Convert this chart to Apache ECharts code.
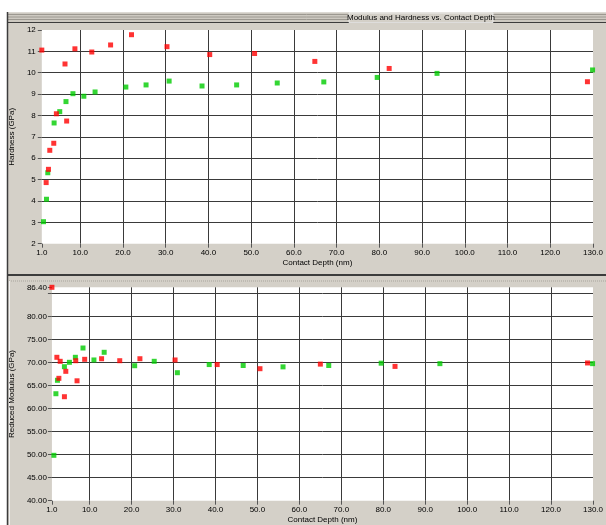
<!DOCTYPE html>
<html><head><meta charset="utf-8">
<script src="https://cdn.jsdelivr.net/npm/echarts@6/dist/echarts.min.js"></script>
<style>html,body{margin:0;padding:0;background:#d4d0c8;}#c{width:606px;height:525px;}</style>
</head><body><div id="c"></div>
<script>
const titleText = 'Modulus and Hardness vs. Contact Depth';
const xName = 'Contact Depth (nm)';
const hardnessName = 'Hardness (GPa)';
const modulusName = 'Reduced Modulus (GPa)';

const xTicks = [1, 10, 20, 30, 40, 50, 60, 70, 80, 90, 100, 110, 120, 130];
const modulusTickLabels = [40, 45, 50, 55, 60, 65, 70, 75, 80, 86.4];

// Hardness vs depth
const hardRedX = [1.0, 2.02, 2.56, 2.87, 3.8, 4.41, 6.43, 6.82, 8.75, 12.7, 17.1, 22.0, 30.3, 40.3, 50.8, 64.9, 82.3, 128.7];
const hardRedY = [11.06, 4.86, 5.48, 6.37, 6.70, 8.08, 10.41, 7.74, 11.12, 10.97, 11.30, 11.78, 11.22, 10.85, 10.90, 10.53, 10.20, 9.58];
const hardGreenX = [1.4, 2.1, 2.4, 3.88, 5.2, 6.66, 8.29, 10.84, 13.47, 20.67, 25.4, 30.8, 38.5, 46.6, 56.1, 67.0, 79.5, 93.5, 129.9];
const hardGreenY = [3.03, 4.08, 5.32, 7.65, 8.18, 8.65, 9.02, 8.90, 9.10, 9.33, 9.43, 9.61, 9.38, 9.43, 9.52, 9.57, 9.78, 9.97, 10.13];

// Reduced modulus vs depth
const modRedX = [1.0, 2.18, 2.97, 2.66, 3.98, 4.31, 6.68, 6.99, 8.81, 12.84, 17.17, 21.98, 30.36, 40.4, 50.6, 65.0, 82.8, 128.7];
const modRedY = [86.4, 71.18, 70.31, 66.61, 62.61, 68.13, 70.44, 66.07, 70.74, 70.87, 70.44, 70.87, 70.6, 69.6, 68.7, 69.7, 69.2, 69.95];
const modGreenX = [1.47, 1.95, 2.32, 3.98, 5.17, 6.59, 8.41, 11.02, 13.46, 20.73, 25.39, 30.91, 38.5, 46.6, 56.1, 67.0, 79.5, 93.5, 129.9];
const modGreenY = [49.87, 63.26, 66.18, 69.14, 70.09, 71.18, 73.2, 70.6, 72.27, 69.35, 70.31, 67.83, 69.6, 69.4, 69.1, 69.4, 69.9, 69.8, 69.8];

const zip = (xs, ys) => xs.map((x, i) => [x, ys[i]]);
const FONT = 'Liberation Sans';
const txt = { fontFamily: FONT, fontSize: 8, color: '#000' };
const gridLine = { show: true, showMinLine: false, showMaxLine: false, lineStyle: { color: '#3a3a3a', width: 1 } };

function xAxisOpt(gridIndex) {
  return {
    type: 'value', gridIndex, min: 1, max: 130,
    name: xName, nameLocation: 'middle', nameGap: 15, nameTextStyle: txt,
    axisLine: { show: false },
    axisTick: { show: true, length: 4, lineStyle: { color: '#555' }, customValues: xTicks },
    axisLabel: Object.assign({ margin: 5, customValues: xTicks, formatter: v => v.toFixed(1) }, txt),
    splitLine: gridLine
  };
}

const chart = echarts.init(document.getElementById('c'), null, { renderer: 'canvas' });
chart.setOption({
  animation: false,
  backgroundColor: '#d4d0c8',
  textStyle: { fontFamily: FONT },
  grid: [
    { left: 40.6, right: 9.6, top: 30, height: 213.7, show: true, backgroundColor: '#fff', borderWidth: 0 },
    { left: 51.7, right: 9.6, top: 287.3, height: 213.4, show: true, backgroundColor: '#fff', borderWidth: 0 }
  ],
  xAxis: [xAxisOpt(0), xAxisOpt(1)],
  yAxis: [
    {
      type: 'value', gridIndex: 0, min: 2, max: 12, interval: 1,
      name: hardnessName, nameLocation: 'middle', nameGap: 19, nameTextStyle: txt,
      axisLine: { show: false },
      axisTick: { show: true, length: 4, lineStyle: { color: '#555' } },
      axisLabel: Object.assign({ margin: 6 }, txt),
      splitLine: gridLine
    },
    {
      type: 'value', gridIndex: 1, min: 40, max: 86.4, interval: 5,
      name: modulusName, nameLocation: 'middle', nameGap: 29, nameTextStyle: txt,
      axisLine: { show: false },
      axisTick: { show: true, length: 4, lineStyle: { color: '#555' } },
      axisLabel: Object.assign({ margin: 5, customValues: modulusTickLabels, formatter: v => v.toFixed(2) }, txt),
      splitLine: gridLine
    }
  ],
  series: [
    { type: 'scatter', xAxisIndex: 0, yAxisIndex: 0, symbol: 'rect', symbolSize: 5, itemStyle: { color: '#00cc00' }, data: zip(hardGreenX, hardGreenY) },
    { type: 'scatter', xAxisIndex: 0, yAxisIndex: 0, symbol: 'rect', symbolSize: 5, itemStyle: { color: '#ff0000' }, data: zip(hardRedX, hardRedY) },
    { type: 'scatter', xAxisIndex: 1, yAxisIndex: 1, symbol: 'rect', symbolSize: 5, itemStyle: { color: '#00cc00' }, data: zip(modGreenX, modGreenY) },
    { type: 'scatter', xAxisIndex: 1, yAxisIndex: 1, symbol: 'rect', symbolSize: 5, itemStyle: { color: '#ff0000' }, data: zip(modRedX, modRedY) }
  ],
  graphic: [
    { type: 'rect', shape: { x: 0, y: 0, width: 606, height: 12.5 }, style: { fill: '#fff' }, silent: true },
    { type: 'rect', shape: { x: 0, y: 0, width: 7, height: 525 }, style: { fill: '#fff' }, silent: true },
    { type: 'rect', shape: { x: 7, y: 12.5, width: 599, height: 9.5 }, style: { fill: '#cdc9c1' }, silent: true },
    { type: 'line', shape: { x1: 7, y1: 14.5, x2: 606, y2: 14.5 }, style: { stroke: '#9c9890', lineWidth: 1 }, silent: true },
    { type: 'line', shape: { x1: 7, y1: 17, x2: 606, y2: 17 }, style: { stroke: '#9c9890', lineWidth: 1 }, silent: true },
    { type: 'line', shape: { x1: 7, y1: 19.5, x2: 606, y2: 19.5 }, style: { stroke: '#9c9890', lineWidth: 1 }, silent: true },
    { type: 'line', shape: { x1: 7, y1: 22.5, x2: 606, y2: 22.5 }, style: { stroke: '#3c3c3c', lineWidth: 1.2 }, silent: true },
    { type: 'rect', shape: { x: 349, y: 13, width: 144, height: 9.5 }, style: { fill: '#d4d0c8', stroke: '#f4f4f4', lineWidth: 0.8 }, silent: true },
    { type: 'text', x: 421, y: 17.8, style: { text: titleText, fontFamily: FONT, fontSize: 8, fill: '#000', align: 'center', verticalAlign: 'middle' }, silent: true },
    { type: 'line', shape: { x1: 7.5, y1: 12, x2: 7.5, y2: 525 }, style: { stroke: '#3c3c3c', lineWidth: 1.5 }, silent: true },
    { type: 'line', shape: { x1: 7, y1: 275, x2: 606, y2: 275 }, style: { stroke: '#3c3c3c', lineWidth: 2 }, silent: true },
    { type: 'line', shape: { x1: 9, y1: 281, x2: 606, y2: 281 }, style: { stroke: '#a8a49c', lineWidth: 1, lineDash: [1, 1] }, silent: true },
    { type: 'line', shape: { x1: 9.5, y1: 281, x2: 9.5, y2: 525 }, style: { stroke: '#f2f2f2', lineWidth: 1 }, silent: true }
  ]
});
</script>
</body></html>
